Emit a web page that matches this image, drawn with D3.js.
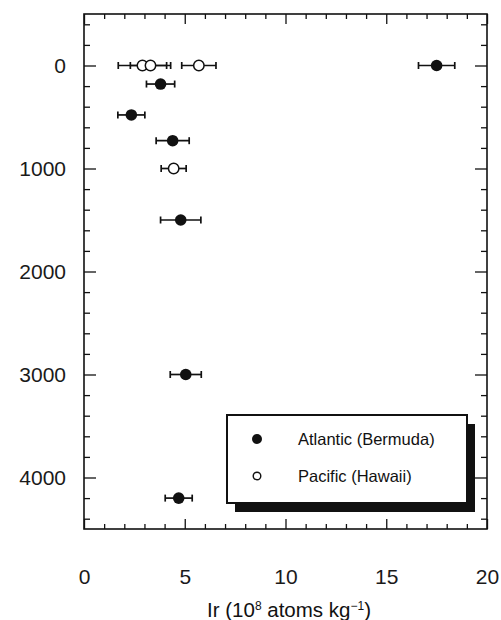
<!DOCTYPE html>
<html>
<head>
<meta charset="utf-8">
<script src="https://cdn.jsdelivr.net/npm/d3@7"></script>
<style>
  body { margin: 0; background: #fff; }
  svg { display: block; }
  .axis path { display: none; }
  .axis line { stroke: #111; stroke-width: 1.3; }
  .axis text { font-family: "Liberation Sans", Arial, sans-serif; font-size: 21px; fill: #1a1a1a; }
</style>
</head>
<body>
<div id="chart"></div>
<script>
// Atlantic (Bermuda) - filled markers
const atlanticIr = [17.5, 3.8, 2.35, 4.4, 4.8, 5.05, 4.7];
const atlanticDepth = [0, 180, 480, 730, 1500, 3000, 4200];
const atlanticErr = [0.9, 0.7, 0.67, 0.82, 1.0, 0.77, 0.67];

// Pacific (Hawaii) - open markers
const pacificIr = [2.9, 3.3, 5.7, 4.45];
const pacificDepth = [0, 0, 0, 1000];
const pacificErr = [1.2, 1.0, 0.85, 0.62];

// Tick labels
const xTickLabels = [0, 5, 10, 15, 20];
const yTickLabels = [0, 1000, 2000, 3000, 4000];

const width = 501;
const height = 620;
const margin = { top: 14, right: 14, bottom: 91, left: 84 };
const plotW = width - margin.left - margin.right;
const plotH = height - margin.top - margin.bottom;

const svg = d3.select("#chart")
    .append("svg")
    .attr("width", width)
    .attr("height", height);

const g = svg.append("g")
    .attr("transform", `translate(${margin.left},${margin.top})`);

const x = d3.scaleLinear().domain([0, 20]).range([0, plotW]);
const y = d3.scaleLinear().domain([-500, 4500]).range([0, plotH]);

const xMinor = d3.range(0, 20.01, 1).filter(v => v % 5 !== 0);
const yMinor = d3.range(-400, 4500, 200).filter(v => v % 1000 !== 0);

// Frame
g.append("rect")
    .attr("width", plotW)
    .attr("height", plotH)
    .attr("fill", "none")
    .attr("stroke", "#111")
    .attr("stroke-width", 1.6);

// Bottom axis (labels + inward ticks)
g.append("g")
    .attr("class", "axis")
    .attr("transform", `translate(0,${plotH})`)
    .call(d3.axisBottom(x).tickValues(xTickLabels).tickSize(-10).tickPadding(40).tickFormat(d3.format("d")));
g.append("g")
    .attr("class", "axis")
    .attr("transform", `translate(0,${plotH})`)
    .call(d3.axisBottom(x).tickValues(xMinor).tickSize(-5).tickFormat(""));

// Top axis
g.append("g")
    .attr("class", "axis")
    .call(d3.axisTop(x).tickValues(xTickLabels).tickSize(-10).tickFormat(""));
g.append("g")
    .attr("class", "axis")
    .call(d3.axisTop(x).tickValues(xMinor).tickSize(-5).tickFormat(""));

// Left axis
g.append("g")
    .attr("class", "axis")
    .call(d3.axisLeft(y).tickValues(yTickLabels).tickSize(-12).tickPadding(18).tickFormat(d3.format("d")));
g.append("g")
    .attr("class", "axis")
    .call(d3.axisLeft(y).tickValues(yMinor).tickSize(-6).tickFormat(""));

// Right axis
g.append("g")
    .attr("class", "axis")
    .attr("transform", `translate(${plotW},0)`)
    .call(d3.axisRight(y).tickValues(yTickLabels).tickSize(-12).tickFormat(""));
g.append("g")
    .attr("class", "axis")
    .attr("transform", `translate(${plotW},0)`)
    .call(d3.axisRight(y).tickValues(yMinor).tickSize(-6).tickFormat(""));

// Build point lists
const atlantic = atlanticIr.map((v, i) => ({ ir: v, depth: atlanticDepth[i], err: atlanticErr[i] }));
const pacific = pacificIr.map((v, i) => ({ ir: v, depth: pacificDepth[i], err: pacificErr[i] }));

function drawErrorBars(data) {
    const eb = g.append("g").attr("stroke", "#111").attr("stroke-width", 1.7);
    data.forEach(d => {
        const cy = y(d.depth);
        const x0 = x(d.ir - d.err);
        const x1 = x(d.ir + d.err);
        eb.append("line").attr("x1", x0).attr("x2", x1).attr("y1", cy).attr("y2", cy);
        eb.append("line").attr("x1", x0).attr("x2", x0).attr("y1", cy - 3.5).attr("y2", cy + 3.5);
        eb.append("line").attr("x1", x1).attr("x2", x1).attr("y1", cy - 3.5).attr("y2", cy + 3.5);
    });
}

drawErrorBars(pacific);
drawErrorBars(atlantic);

g.selectAll("circle.pacific")
    .data(pacific)
    .enter()
    .append("circle")
    .attr("class", "pacific")
    .attr("cx", d => x(d.ir))
    .attr("cy", d => y(d.depth))
    .attr("r", 5.2)
    .attr("fill", "#fff")
    .attr("stroke", "#111")
    .attr("stroke-width", 1.5);

g.selectAll("circle.atlantic")
    .data(atlantic)
    .enter()
    .append("circle")
    .attr("class", "atlantic")
    .attr("cx", d => x(d.ir))
    .attr("cy", d => y(d.depth))
    .attr("r", 5.8)
    .attr("fill", "#111");

// Legend with drop shadow
const legend = svg.append("g").attr("transform", "translate(227,415)");
legend.append("rect")
    .attr("x", 8).attr("y", 9)
    .attr("width", 240).attr("height", 88)
    .attr("fill", "#111");
legend.append("rect")
    .attr("width", 240).attr("height", 88)
    .attr("fill", "#fff")
    .attr("stroke", "#111")
    .attr("stroke-width", 2);

const legendItems = [
    { label: "Atlantic (Bermuda)", filled: true, y: 24 },
    { label: "Pacific (Hawaii)", filled: false, y: 61 }
];
legendItems.forEach(item => {
    legend.append("circle")
        .attr("cx", 30).attr("cy", item.y)
        .attr("r", item.filled ? 5 : 3.8)
        .attr("fill", item.filled ? "#111" : "#fff")
        .attr("stroke", "#111")
        .attr("stroke-width", item.filled ? 0 : 1.4);
    legend.append("text")
        .attr("x", 71).attr("y", item.y)
        .attr("dy", "0.36em")
        .attr("font-family", "Liberation Sans, Arial, sans-serif")
        .attr("font-size", "16.5px")
        .attr("fill", "#111")
        .text(item.label);
});

// X axis title
const title = svg.append("text")
    .attr("x", 289)
    .attr("y", 617)
    .attr("text-anchor", "middle")
    .attr("font-family", "Liberation Sans, Arial, sans-serif")
    .attr("font-size", "20.5px")
    .attr("fill", "#111");
title.append("tspan").text("Ir (10");
title.append("tspan").attr("dy", -7).attr("font-size", "12px").text("8");
title.append("tspan").attr("dy", 7).text(" atoms kg");
title.append("tspan").attr("dy", -7).attr("font-size", "12px").text("\u22121");
title.append("tspan").attr("dy", 7).text(")");
</script>
</body>
</html>
